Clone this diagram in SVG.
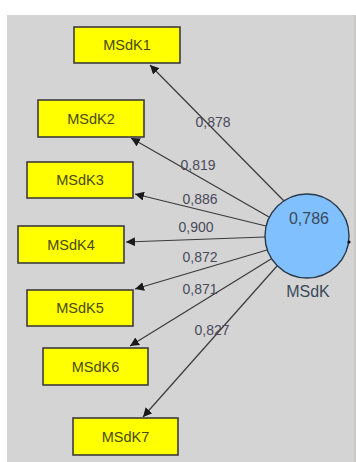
<svg xmlns="http://www.w3.org/2000/svg" width="356" height="462" viewBox="0 0 356 462">
<defs>
<marker id="ah" viewBox="0 0 10 10" refX="10" refY="5" markerWidth="9" markerHeight="9" markerUnits="userSpaceOnUse" orient="auto">
<path d="M0,0 L10,5 L0,10 z" fill="#1a1a1a"/>
</marker>
<style>
.box{fill:#ffff00;stroke:#3c3c3c;stroke-width:1.6}
.bt{font-family:"Liberation Sans",Arial,sans-serif;font-size:14.5px;fill:#4a4a14;text-anchor:middle;dominant-baseline:central}
.edge{stroke:#3a3a3a;stroke-width:1.2;fill:none;marker-end:url(#ah)}
.el{font-family:"Liberation Sans",Arial,sans-serif;font-size:14px;fill:#4a4a5a;text-anchor:middle;dominant-baseline:central}
.ct{font-family:"Liberation Sans",Arial,sans-serif;font-size:16px;fill:#3a4a5a;text-anchor:middle}
</style>
</defs>
<rect x="0" y="0" width="356" height="462" fill="#ffffff"/>
<rect x="7" y="15" width="349" height="447" fill="#d4d4d4"/>
<line x1="355" y1="15" x2="355" y2="462" stroke="#c8c4c0" stroke-width="1.5"/>
<g id="connectors">
<line class="edge" x1="284" y1="201" x2="150" y2="65"/>
<line class="edge" x1="269" y1="217" x2="131" y2="138"/>
<line class="edge" x1="266" y1="226" x2="135" y2="194"/>
<line class="edge" x1="265" y1="237" x2="126" y2="242"/>
<line class="edge" x1="267" y1="250" x2="135" y2="289"/>
<line class="edge" x1="271" y1="259" x2="130" y2="346"/>
<line class="edge" x1="277" y1="266" x2="143" y2="417"/>
</g>
<g id="edge-labels">
<text class="el" x="213" y="122">0,878</text>
<text class="el" x="198" y="165">0,819</text>
<text class="el" x="200" y="199">0,886</text>
<text class="el" x="196" y="227">0,900</text>
<text class="el" x="200" y="257">0,872</text>
<text class="el" x="200" y="289">0,871</text>
<text class="el" x="212" y="330">0,827</text>
</g>
<g id="MSdK1"><rect class="box" x="74" y="27" width="106" height="36"/><text class="bt" x="127" y="45">MSdK1</text></g>
<g id="MSdK2"><rect class="box" x="38" y="100" width="106" height="37"/><text class="bt" x="91" y="118.5">MSdK2</text></g>
<g id="MSdK3"><rect class="box" x="27" y="162" width="106" height="36"/><text class="bt" x="80" y="180">MSdK3</text></g>
<g id="MSdK4"><rect class="box" x="18" y="226" width="106" height="37"/><text class="bt" x="71" y="244.5">MSdK4</text></g>
<g id="MSdK5"><rect class="box" x="27" y="290" width="106" height="36"/><text class="bt" x="80" y="308">MSdK5</text></g>
<g id="MSdK6"><rect class="box" x="43" y="348" width="105" height="37"/><text class="bt" x="95.5" y="366.5">MSdK6</text></g>
<g id="MSdK7"><rect class="box" x="73" y="418" width="105" height="37"/><text class="bt" x="125.5" y="436.5">MSdK7</text></g>
<g id="MSdK">
<circle cx="307" cy="236" r="42" fill="#80c0ff" stroke="#2a3a4a" stroke-width="1.4"/>
<circle cx="349" cy="242" r="1.6" fill="#111"/>
<text class="ct" x="309" y="224">0,786</text>
<text class="ct" x="308" y="297">MSdK</text>
</g>
</svg>
